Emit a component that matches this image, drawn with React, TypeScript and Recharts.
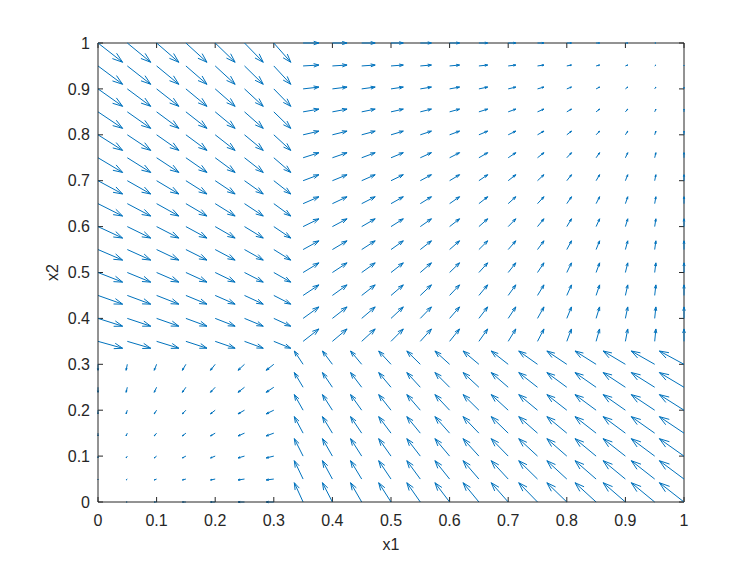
import React from 'react'
import { ScatterChart, Scatter, XAxis, YAxis, ReferenceLine } from 'recharts'

// grid of arrow tails
const X1 = [0, 0.05, 0.1, 0.15, 0.2, 0.25, 0.3, 0.35, 0.4, 0.45, 0.5, 0.55, 0.6, 0.65, 0.7, 0.75, 0.8, 0.85, 0.9, 0.95, 1]
const X2 = [0, 0.05, 0.1, 0.15, 0.2, 0.25, 0.3, 0.35, 0.4, 0.45, 0.5, 0.55, 0.6, 0.65, 0.7, 0.75, 0.8, 0.85, 0.9, 0.95, 1]

// horizontal arrow part (data units) per x1 column, rows above / below the switch line
const U_UPPER = [0.042, 0.04, 0.038, 0.036, 0.034, 0.032, 0.029, 0.027, 0.025, 0.023, 0.021, 0.019, 0.017, 0.015, 0.013, 0.011, 0.008, 0.006, 0.004, 0.002, 0]
const U_LOWER = [0, -0.002, -0.004, -0.006, -0.008, -0.011, -0.013, -0.015, -0.017, -0.019, -0.021, -0.023, -0.025, -0.027, -0.029, -0.032, -0.034, -0.036, -0.038, -0.04, -0.042]

// vertical arrow part (data units) per x2 row, columns left / right of the switch line
const V_LEFT = [0, -0.002, -0.004, -0.006, -0.008, -0.011, -0.013, -0.015, -0.017, -0.019, -0.021, -0.023, -0.025, -0.027, -0.029, -0.032, -0.034, -0.036, -0.038, -0.04, -0.042]
const V_RIGHT = [0.042, 0.04, 0.038, 0.036, 0.034, 0.032, 0.029, 0.027, 0.025, 0.023, 0.021, 0.019, 0.017, 0.015, 0.013, 0.011, 0.008, 0.006, 0.004, 0.002, 0]

// first grid index past x = 1/3
const SWITCH_INDEX = 7

const TICKS = [0, 0.1, 0.2, 0.3, 0.4, 0.5, 0.6, 0.7, 0.8, 0.9, 1]

const BLUE = '#0072BD'
const AXIS = '#262626'
const FONT_SIZE = 16
const TICK_LEN = 5
const ALPHA = 0.33
const BETA = 0.33

const arrows = X2.flatMap((y, j) =>
  X1.map((x, i) => ({
    x,
    y,
    u: j >= SWITCH_INDEX ? U_UPPER[i] : U_LOWER[i],
    v: i >= SWITCH_INDEX ? V_RIGHT[j] : V_LEFT[j],
  }))
)

// quiver style arrow: shaft plus two barbs at the tip
function Arrow(props: any) {
  const { x1, y1, x2, y2 } = props
  const u = x2 - x1
  const v = y2 - y1
  if (Math.hypot(u, v) < 0.6) return <g />
  const head =
    `${x2 - ALPHA * (u + BETA * v)},${y2 - ALPHA * (v - BETA * u)} ` +
    `${x2},${y2} ` +
    `${x2 - ALPHA * (u - BETA * v)},${y2 - ALPHA * (v + BETA * u)}`
  return (
    <g>
      <line x1={x1} y1={y1} x2={x2} y2={y2} stroke={BLUE} strokeWidth={1} />
      <polyline points={head} fill="none" stroke={BLUE} strokeWidth={1} />
    </g>
  )
}

// inward tick marks at both ends of a reference line
function TickPair(props: any) {
  const { x1, y1, x2, y2 } = props
  if (Math.abs(x1 - x2) < 0.01) {
    const top = Math.min(y1, y2)
    const bot = Math.max(y1, y2)
    return (
      <g stroke={AXIS} strokeWidth={1}>
        <line x1={x1} x2={x1} y1={top} y2={top + TICK_LEN} />
        <line x1={x1} x2={x1} y1={bot} y2={bot - TICK_LEN} />
      </g>
    )
  }
  const left = Math.min(x1, x2)
  const right = Math.max(x1, x2)
  return (
    <g stroke={AXIS} strokeWidth={1}>
      <line x1={left} x2={left + TICK_LEN} y1={y1} y2={y1} />
      <line x1={right} x2={right - TICK_LEN} y1={y1} y2={y1} />
    </g>
  )
}

function YTitle(props: any) {
  const { viewBox } = props
  const cx = viewBox.x
  const cy = viewBox.y + viewBox.height / 2
  return (
    <text x={cx} y={cy} transform={`rotate(-90, ${cx}, ${cy})`} textAnchor="middle" fill={AXIS} fontSize={FONT_SIZE}>
      x2
    </text>
  )
}

export default function App() {
  return (
    <div style={{ position: 'absolute', left: 0, top: 0, fontFamily: '"Liberation Sans", Arial, sans-serif' }}>
      <ScatterChart width={756} height={564} margin={{ top: 43, right: 72, bottom: 32, left: 58 }}>
        <XAxis
          type="number"
          dataKey="x"
          domain={[0, 1]}
          ticks={TICKS}
          interval={0}
          height={30}
          tickSize={0}
          tickMargin={13}
          tickLine={false}
          axisLine={{ stroke: AXIS }}
          tick={{ fill: AXIS, fontSize: FONT_SIZE }}
          label={{ value: 'x1', position: 'bottom', offset: 7, fill: AXIS, fontSize: FONT_SIZE }}
        />
        <YAxis
          type="number"
          dataKey="y"
          domain={[0, 1]}
          ticks={TICKS}
          interval={0}
          width={40}
          tickSize={0}
          tickMargin={8}
          tickLine={false}
          axisLine={{ stroke: AXIS }}
          tick={{ fill: AXIS, fontSize: FONT_SIZE }}
          label={{ content: YTitle }}
        />
        <Scatter data={arrows} shape={() => <g />} isAnimationActive={false} />
        <ReferenceLine x={1} stroke={AXIS} ifOverflow="visible" />
        <ReferenceLine y={1} stroke={AXIS} ifOverflow="visible" />
        {TICKS.map((t) => (
          <ReferenceLine key={`tx${t}`} x={t} shape={TickPair} ifOverflow="visible" />
        ))}
        {TICKS.map((t) => (
          <ReferenceLine key={`ty${t}`} y={t} shape={TickPair} ifOverflow="visible" />
        ))}
        {arrows.map((a, k) => (
          <ReferenceLine
            key={k}
            segment={[
              { x: a.x, y: a.y },
              { x: a.x + a.u, y: a.y + a.v },
            ]}
            shape={Arrow}
            ifOverflow="visible"
          />
        ))}
      </ScatterChart>
    </div>
  )
}
